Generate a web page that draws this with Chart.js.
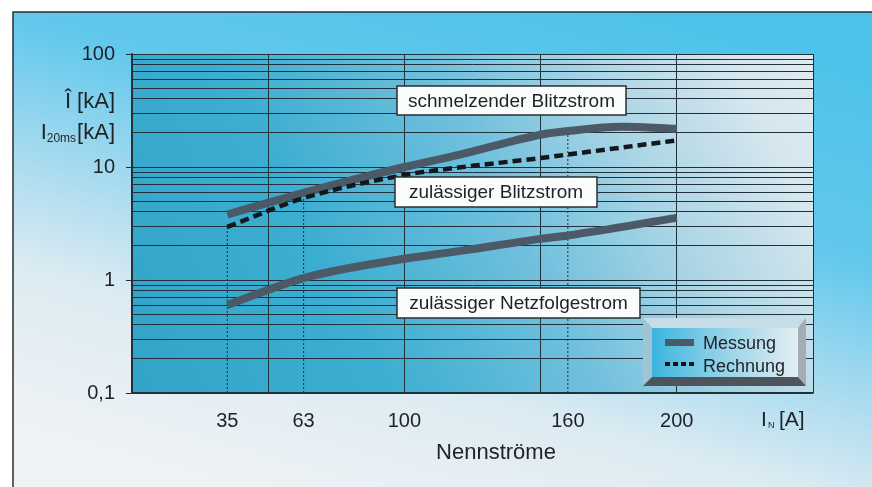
<!DOCTYPE html>
<html>
<head>
<meta charset="utf-8">
<script src="https://cdn.jsdelivr.net/npm/chart.js@4"></script>
<style>
  html, body { margin: 0; padding: 0; background: #fff; }
  #wrap { width: 872px; height: 487px; }
</style>
</head>
<body>
<div id="wrap"><canvas id="chart" width="872" height="487"></canvas></div>
<script>
// ── Daten ────────────────────────────────────────────────────────
const nennStroeme  = [35, 63, 100, 160, 200];          // x-Beschriftung
const xGridValues  = [0, 50, 100, 150, 200, 250];      // senkrechte Gitterlinien
const yDecades     = [0.1, 1, 10, 100];
const yDecadeLabels = ['0,1', '1', '10', '100'];

const schmelzX = [35, 63, 100, 120, 150, 160, 180, 200];
const schmelzY = [3.8, 5.9, 10, 12.8, 19.3, 20.8, 22.7, 21.8];   // schmelzender Blitzstrom (Messung)

const blitzX = [35, 63, 100, 120, 150, 160, 200];
const blitzY = [2.95, 5.3, 8.5, 9.9, 12.0, 12.9, 17.2];           // zulässiger Blitzstrom (Rechnung)

const netzX = [35, 63, 100, 120, 150, 160, 200];
const netzY = [0.60, 1.04, 1.54, 1.80, 2.31, 2.48, 3.55];         // zulässiger Netzfolgestrom (Messung)

const dropX   = [35, 63, 160];          // gepunktete Hilfslinien
const dropTop = [2.95, 5.9, 20.8];

const curveLabels  = ['schmelzender Blitzstrom', 'zulässiger Blitzstrom', 'zulässiger Netzfolgestrom'];
const legendLabels = ['Messung', 'Rechnung'];

const FONT      = '"Liberation Sans", Arial, Helvetica, sans-serif';
const textColor = '#1e2226';
const gridColor = '#22303a';
const messColor = '#4b5a66';

const pts = (xs, ys) => xs.map((x, i) => ({ x, y: ys[i] }));

// ── Hintergrund, Beschriftungen, Legende ─────────────────────────
const decorPlugin = {
    id: 'decor',
    beforeDraw(chart) {
        const { ctx, chartArea: a } = chart;
        ctx.save();
        ctx.fillStyle = '#fff';
        ctx.fillRect(0, 0, 872, 487);
        // äußerer Rahmen
        const g = ctx.createLinearGradient(523, -50, 361, 517);
        g.addColorStop(0, '#4cc2ea');
        g.addColorStop(0.35, '#62c8ec');
        g.addColorStop(0.55, '#a2d9ef');
        g.addColorStop(0.75, '#dcebf2');
        g.addColorStop(1, '#eef2f5');
        ctx.fillStyle = g;
        ctx.fillRect(13, 12, 859, 475);
        ctx.strokeStyle = '#2b2f33';
        ctx.lineWidth = 1.5;
        ctx.beginPath();
        ctx.moveTo(13, 487); ctx.lineTo(13, 12); ctx.lineTo(872, 12);
        ctx.stroke();
        // Diagrammfläche
        const p = ctx.createLinearGradient(a.left, a.bottom, a.right, a.top);
        p.addColorStop(0, '#31a4c7');
        p.addColorStop(0.3, '#3caed1');
        p.addColorStop(0.55, '#70c0dd');
        p.addColorStop(0.75, '#b0d7e6');
        p.addColorStop(0.9, '#d5e6ee');
        p.addColorStop(1, '#e0ebf0');
        ctx.fillStyle = p;
        ctx.fillRect(a.left, a.top, a.right - a.left, a.bottom - a.top);
        ctx.restore();
    },
    afterDatasetsDraw(chart) {
        const { ctx } = chart;
        ctx.save();

        // Kurvenbeschriftungen
        const boxes = [[397, 86, 229, 29], [395, 177, 202, 30], [397, 288, 243, 30]];
        ctx.font = '19px ' + FONT;
        ctx.textAlign = 'center';
        ctx.textBaseline = 'middle';
        curveLabels.forEach((txt, i) => {
            const [x, y, w, h] = boxes[i];
            ctx.fillStyle = '#fbfcfc';
            ctx.fillRect(x, y, w, h);
            ctx.strokeStyle = '#2a2e32';
            ctx.lineWidth = 1.5;
            ctx.strokeRect(x, y, w, h);
            ctx.fillStyle = textColor;
            ctx.fillText(txt, x + w / 2, y + h / 2 + 1);
        });

        // Legende mit Rahmen-Fase
        const o = { l: 643, t: 318, r: 806, b: 386 };
        const f = { l: 652, t: 328, r: 798, b: 377 };
        const poly = (pp, fill) => {
            ctx.beginPath();
            ctx.moveTo(pp[0][0], pp[0][1]);
            pp.slice(1).forEach(q => ctx.lineTo(q[0], q[1]));
            ctx.closePath();
            ctx.fillStyle = fill;
            ctx.fill();
        };
        poly([[o.l, o.t], [o.r, o.t], [f.r, f.t], [f.l, f.t]], '#c6dde8');
        poly([[o.l, o.t], [f.l, f.t], [f.l, f.b], [o.l, o.b]], '#9fc4d4');
        poly([[o.r, o.t], [o.r, o.b], [f.r, f.b], [f.r, f.t]], '#a3adb3');
        poly([[o.l, o.b], [f.l, f.b], [f.r, f.b], [o.r, o.b]], '#4d545b');
        const lg = ctx.createLinearGradient(f.l, 0, f.r, 0);
        lg.addColorStop(0, '#3ab5de');
        lg.addColorStop(0.45, '#8fd0e8');
        lg.addColorStop(1, '#e4eef2');
        ctx.fillStyle = lg;
        ctx.fillRect(f.l, f.t, f.r - f.l, f.b - f.t);

        ctx.fillStyle = messColor;
        ctx.fillRect(665, 339, 29, 7);
        ctx.fillStyle = '#111';
        for (let k = 0; k < 4; k++) ctx.fillRect(665 + k * 8, 362, 5, 4);
        ctx.fillStyle = textColor;
        ctx.font = '18px ' + FONT;
        ctx.textAlign = 'left';
        ctx.textBaseline = 'alphabetic';
        ctx.fillText(legendLabels[0], 703, 349);
        ctx.fillText(legendLabels[1], 703, 372);

        // Achsentitel y
        ctx.font = '22px ' + FONT;
        ctx.textAlign = 'right';
        ctx.fillText('Î [kA]', 115, 108);
        const w1 = ctx.measureText('[kA]').width;
        ctx.fillText('[kA]', 115, 139);
        ctx.font = '12px ' + FONT;
        const w2 = ctx.measureText('20ms').width;
        ctx.fillText('20ms', 115 - w1 - 1, 142);
        ctx.font = '22px ' + FONT;
        ctx.fillText('I', 115 - w1 - 1 - w2, 139);

        // Achsentitel x
        ctx.font = '21px ' + FONT;
        ctx.textAlign = 'left';
        ctx.fillText('I', 761, 426);
        ctx.font = '9px ' + FONT;
        ctx.fillText('N', 768, 428);
        ctx.font = '21px ' + FONT;
        ctx.fillText('[A]', 779, 426);

        ctx.font = '22px ' + FONT;
        ctx.textAlign = 'center';
        ctx.fillText('Nennströme', 496, 459);
        ctx.restore();
    }
};

// ── Diagramm ─────────────────────────────────────────────────────
const thick = (label, xs, ys) => ({
    label, data: pts(xs, ys),
    borderColor: messColor, borderWidth: 8, borderCapStyle: 'butt',
    cubicInterpolationMode: 'monotone', pointRadius: 0, order: 2,
});

const dropSets = dropX.map((x, i) => ({
    label: 'hilfslinie',
    data: [{ x, y: yDecades[0] }, { x, y: dropTop[i] }],
    borderColor: gridColor, borderWidth: 1, borderDash: [2, 2],
    pointRadius: 0, order: 5,
}));

new Chart(document.getElementById('chart'), {
    type: 'line',
    data: {
        datasets: [
            thick(curveLabels[0], schmelzX, schmelzY),
            thick(curveLabels[2], netzX, netzY),
            {
                label: curveLabels[1], data: pts(blitzX, blitzY),
                borderColor: '#14181c', borderWidth: 4.5, borderDash: [9, 5],
                cubicInterpolationMode: 'monotone', pointRadius: 0, order: 1,
            },
            ...dropSets,
        ]
    },
    options: {
        responsive: false,
        animation: false,
        devicePixelRatio: 1,
        layout: { padding: { left: 0, top: 54, right: 59, bottom: 0 } },
        plugins: { legend: { display: false }, tooltip: { enabled: false } },
        scales: {
            x: {
                type: 'linear', min: 0, max: 250,
                afterBuildTicks: s => {
                    const v = [...new Set([...xGridValues, ...nennStroeme])].sort((a, b) => a - b);
                    s.ticks = v.map(value => ({ value }));
                },
                afterFit: s => { s.height = 94; },
                ticks: {
                    autoSkip: false, maxRotation: 0, padding: 16,
                    font: { size: 20, family: FONT }, color: textColor,
                    callback: v => nennStroeme.includes(v) ? String(v) : '',
                },
                grid: {
                    color: c => xGridValues.includes(c.tick && c.tick.value) ? gridColor : 'rgba(0,0,0,0)',
                    lineWidth: 1, drawTicks: false,
                },
                border: { display: true, color: gridColor, width: 1.5 },
            },
            y: {
                type: 'logarithmic', min: 0.1, max: 100,
                afterBuildTicks: s => {
                    const t = [];
                    yDecades.forEach((d, i) => {
                        if (i === yDecades.length - 1) { t.push(d); return; }
                        for (let k = 1; k < 10; k++) t.push(+(d * k).toPrecision(2));
                    });
                    s.ticks = t.map(value => ({ value }));
                },
                afterFit: s => { s.width = 132; },
                ticks: {
                    autoSkip: false, padding: 11,
                    font: { size: 20, family: FONT }, color: textColor,
                    callback: v => { const i = yDecades.indexOf(v); return i >= 0 ? yDecadeLabels[i] : ''; },
                },
                grid: {
                    color: gridColor, lineWidth: 1, tickLength: 6,
                    tickColor: c => yDecades.includes(c.tick && c.tick.value) ? gridColor : 'rgba(0,0,0,0)',
                },
                border: { display: true, color: gridColor, width: 1.5 },
            }
        }
    },
    plugins: [decorPlugin]
});
</script>
</body>
</html>
